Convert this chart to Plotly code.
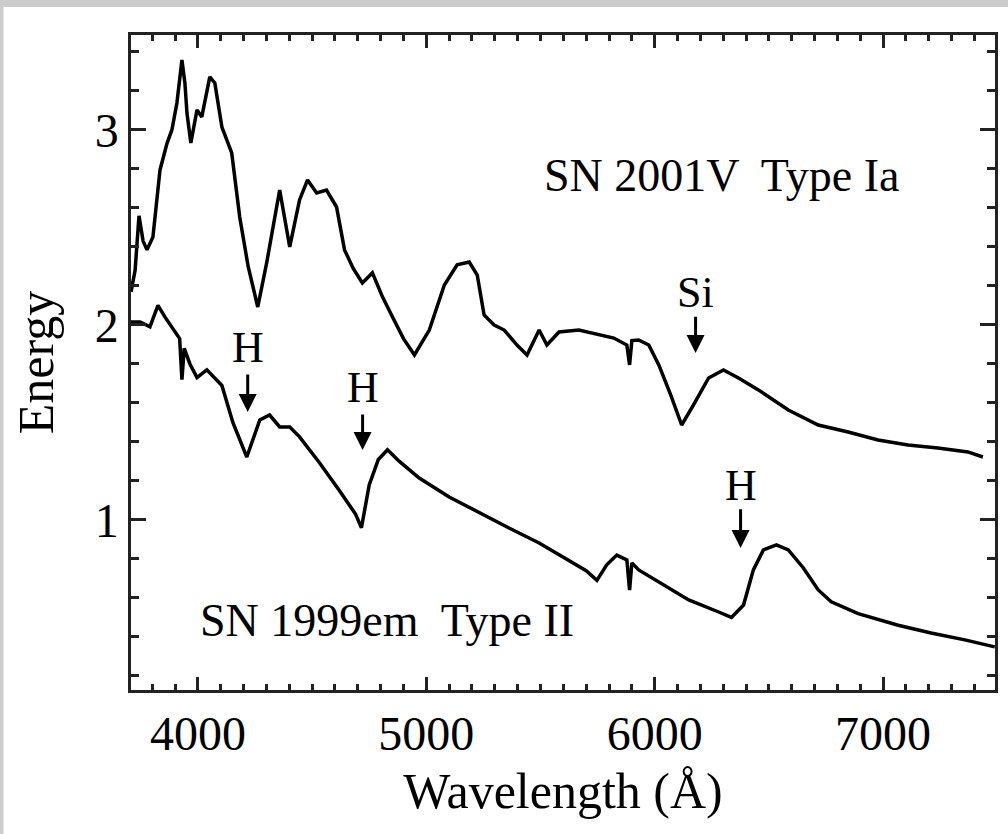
import plotly.graph_objects as go

# SN 2001V (Type Ia) spectrum
wl_ia = [3707, 3725, 3742, 3760, 3777, 3803, 3834, 3865, 3886, 3908, 3930, 3943, 3952, 3969,
         3996, 4017, 4052, 4074, 4105, 4148, 4183, 4220, 4262, 4301, 4358, 4402, 4445, 4480,
         4520, 4563, 4607, 4642, 4680, 4720, 4764, 4808, 4852, 4900, 4948, 5013, 5079, 5135,
         5188, 5223, 5253, 5297, 5341, 5397, 5441, 5494, 5528, 5581, 5668, 5756, 5821, 5878,
         5890, 5900, 5930, 5974, 6018, 6070, 6118, 6170, 6236, 6301, 6367, 6454, 6585, 6716,
         6847, 6978, 7109, 7240, 7371, 7437]
fl_ia = [2.17, 2.28, 2.56, 2.43, 2.385, 2.451, 2.795, 2.933, 3.0, 3.138, 3.359, 3.241, 3.087, 2.933,
         3.103, 3.067, 3.272, 3.241, 3.015, 2.882, 2.554, 2.30, 2.092, 2.318, 2.692, 2.40, 2.641, 2.744,
         2.677, 2.692, 2.605, 2.385, 2.29, 2.215, 2.267, 2.144, 2.041, 1.93, 1.846, 1.974, 2.205, 2.308,
         2.323, 2.256, 2.051, 2.0, 1.974, 1.897, 1.846, 1.974, 1.897, 1.964, 1.974, 1.949, 1.933, 1.897,
         1.795, 1.92, 1.923, 1.897, 1.795, 1.641, 1.487, 1.59, 1.728, 1.769, 1.728, 1.667, 1.564, 1.487,
         1.451, 1.41, 1.385, 1.369, 1.349, 1.323]

# SN 1999em (Type II) spectrum
wl_ii = [3707, 3747, 3790, 3825, 3856, 3886, 3920, 3930, 3940, 3965, 3996, 4039, 4074, 4105,
         4153, 4214, 4271, 4314, 4358, 4402, 4445, 4533, 4620, 4690, 4716, 4750, 4790, 4830,
         4882, 4969, 5100, 5231, 5362, 5494, 5625, 5700, 5747, 5790, 5834, 5878, 5890, 5900,
         5930, 6018, 6149, 6280, 6336, 6389, 6432, 6476, 6533, 6585, 6651, 6716, 6773, 6891,
         7066, 7210, 7358, 7489]
fl_ii = [2.015, 2.015, 1.99, 2.10, 2.04, 1.99, 1.93, 1.72, 1.88, 1.80, 1.73, 1.77, 1.73, 1.69,
         1.50, 1.323, 1.513, 1.538, 1.477, 1.477, 1.426, 1.292, 1.15, 1.03, 0.96, 1.18, 1.31, 1.36,
         1.30, 1.215, 1.118, 1.036, 0.959, 0.882, 0.795, 0.74, 0.69, 0.77, 0.82, 0.795, 0.64, 0.78,
         0.744, 0.682, 0.59, 0.528, 0.50, 0.564, 0.744, 0.846, 0.872, 0.846, 0.754, 0.641, 0.58, 0.52,
         0.46, 0.42, 0.385, 0.349]

# line markers: label, wavelength, label y, arrow tail y, arrow tip y
mark_labels = ["H", "H", "H", "Si"]
mark_wl = [4218, 4721, 6376, 6179]
mark_text_y = [1.882, 1.677, 1.179, 2.169]
mark_tail_y = [1.754, 1.549, 1.062, 2.05]
mark_tip_y = [1.554, 1.359, 0.856, 1.856]

spec_names = ["SN 2001V  Type Ia", "SN 1999em  Type II"]
spec_label_x = [6293, 4828]
spec_label_y = [2.769, 0.487]

FONT = "Liberation Serif"

fig = go.Figure()
fig.add_trace(go.Scatter(x=wl_ia, y=fl_ia, mode="lines",
                         line=dict(color="black", width=3.5), showlegend=False))
fig.add_trace(go.Scatter(x=wl_ii, y=fl_ii, mode="lines",
                         line=dict(color="black", width=3.5), showlegend=False))

for lab, wx, ty, tail, tip in zip(mark_labels, mark_wl, mark_text_y, mark_tail_y, mark_tip_y):
    fig.add_annotation(x=wx, y=ty, text=lab, showarrow=False,
                       font=dict(family=FONT, size=44, color="black"))
    fig.add_annotation(x=wx, y=tip, ax=wx, ay=tail, axref="x", ayref="y", text="",
                       showarrow=True, arrowhead=2, arrowsize=1.2, arrowwidth=3,
                       arrowcolor="black")

for name, sx, sy in zip(spec_names, spec_label_x, spec_label_y):
    fig.add_annotation(x=sx, y=sy, text=name, showarrow=False,
                       font=dict(family=FONT, size=46, color="black"))

# grey frame strips of the original picture
fig.add_shape(type="rect", xref="paper", yref="paper", x0=-0.16, x1=1.02, y0=1.0427, y1=1.06,
              fillcolor="#cccccc", line_width=0, layer="above")
fig.add_shape(type="rect", xref="paper", yref="paper", x0=-0.16, x1=-0.1476, y0=-0.23, y1=1.06,
              fillcolor="#cccccc", line_width=0, layer="above")

axis_common = dict(showgrid=False, zeroline=False, showline=True, linecolor="#222222",
                   linewidth=2.5, mirror="allticks", ticks="inside", tickcolor="#222222",
                   tickwidth=2.5, tickfont=dict(family=FONT, size=48, color="black"))

fig.update_xaxes(range=[3707, 7490], tickvals=[4000, 5000, 6000, 7000], ticklen=13,
                 minor=dict(dtick=100, tick0=4000, ticks="inside", ticklen=6, tickwidth=2.5,
                            tickcolor="#222222"),
                 title=dict(text="Wavelength (Å)", font=dict(family=FONT, size=50, color="black"),
                            standoff=14),
                 **axis_common)
fig.update_yaxes(range=[0.128, 3.487], tickvals=[1, 2, 3], ticklen=15,
                 minor=dict(dtick=0.2, tick0=0, ticks="inside", ticklen=8, tickwidth=2.5,
                            tickcolor="#222222"),
                 title=dict(text="Energy", font=dict(family=FONT, size=50, color="black"),
                            standoff=26),
                 **axis_common)

fig.update_layout(width=1008, height=834, margin=dict(l=131, r=10, t=35, b=144),
                  plot_bgcolor="white", paper_bgcolor="white")

fig.write_html("out.html")
